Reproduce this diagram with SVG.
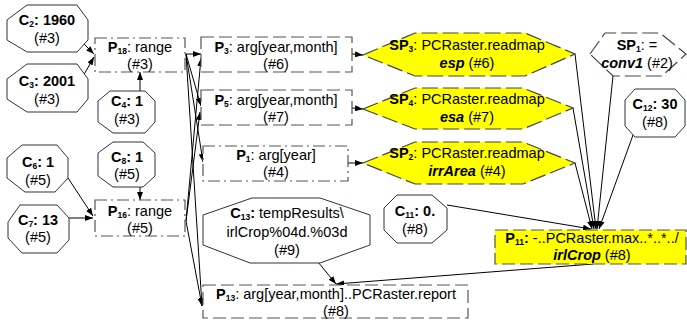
<svg xmlns="http://www.w3.org/2000/svg" width="687" height="327" viewBox="0 0 687 327">
<style>
text{font-family:"Liberation Sans",Arial,sans-serif;font-size:14.5px;text-anchor:middle;fill:#000}
.b{font-weight:bold}
.i{font-style:italic;font-weight:bold}
.s{font-size:8.5px}
.oct{fill:#fff;stroke:#333;stroke-width:1}
.dd{fill:#fff;stroke:#555;stroke-width:1.2;stroke-dasharray:12,4,2,4}
.ld{fill:#fff;stroke:#555;stroke-width:1.2;stroke-dasharray:13,5}
.yb{fill:#ffff00;stroke:#555;stroke-width:1.2;stroke-dasharray:13,5}
.hex{fill:#ffff00;stroke:#444;stroke-width:1.2;stroke-dasharray:16,5}
.hexw{fill:#fff;stroke:#444;stroke-width:1.2;stroke-dasharray:16,5}
.c{fill:none;stroke:#000;stroke-width:1;marker-end:url(#ah)}
</style>
<defs>
<marker id="ah" viewBox="0 0 8 6" refX="8" refY="3" markerWidth="8" markerHeight="6" orient="auto" markerUnits="userSpaceOnUse"><path d="M0,0 L8,3 L0,6 z" fill="#000"/></marker>
</defs>

<g id="connectors">
<line class="c" x1="78" y1="38" x2="94" y2="54"/>
<line class="c" x1="82" y1="78" x2="94" y2="57"/>
<line class="c" x1="140" y1="91" x2="140" y2="72"/>
<line class="c" x1="140" y1="187" x2="140" y2="200"/>
<line class="c" x1="68" y1="178" x2="93" y2="216"/>
<line class="c" x1="69" y1="218" x2="93" y2="218"/>
<line class="c" x1="186" y1="54" x2="201" y2="54"/>
<line class="c" x1="186" y1="54" x2="201" y2="106"/>
<line class="c" x1="186" y1="54" x2="203" y2="162"/>
<line class="c" x1="186" y1="54" x2="202" y2="306"/>
<line class="c" x1="186" y1="221" x2="201" y2="58"/>
<line class="c" x1="186" y1="221" x2="200" y2="112"/>
<line class="c" x1="186" y1="221" x2="202" y2="306"/>
<line class="c" x1="352" y1="54" x2="363" y2="55"/>
<line class="c" x1="352" y1="108" x2="363" y2="109"/>
<line class="c" x1="348" y1="163" x2="363" y2="163"/>
<line class="c" x1="575" y1="54" x2="596" y2="229"/>
<line class="c" x1="573" y1="108" x2="594" y2="229"/>
<line class="c" x1="575" y1="163" x2="592" y2="229"/>
<line class="c" x1="613" y1="76" x2="597" y2="229"/>
<line class="c" x1="633" y1="135" x2="599" y2="229"/>
<line class="c" x1="447" y1="205" x2="591" y2="229"/>
<line class="c" x1="593" y1="264" x2="336" y2="284"/>
<line class="c" x1="318" y1="262" x2="336" y2="284"/>
</g>

<g id="C2"><polygon class="oct" points="27,5 77,5 88,20 88,40 77,52 27,52 7,40 7,20"/>
<text x="47" y="25"><tspan class="b">C</tspan><tspan class="b s" dy="2">2</tspan><tspan class="b" dy="-2">: 1960</tspan></text>
<text x="47" y="43">(#3)</text></g>

<g id="C3"><polygon class="oct" points="27,64 77,64 88,79 88,99 77,112 27,112 7,99 7,79"/>
<text x="47" y="86"><tspan class="b">C</tspan><tspan class="b s" dy="2">3</tspan><tspan class="b" dy="-2">: 2001</tspan></text>
<text x="47" y="104">(#3)</text></g>

<g id="C4"><polygon class="oct" points="110,91 145,91 155,101 155,122 145,133 113,133 98,122 98,101"/>
<text x="127" y="106"><tspan class="b">C</tspan><tspan class="b s" dy="2">4</tspan><tspan class="b" dy="-2">: 1</tspan></text>
<text x="127" y="124">(#3)</text></g>

<g id="C8"><polygon class="oct" points="113,142 143,142 155,153 155,176 143,187 113,187 98,176 98,153"/>
<text x="127" y="162"><tspan class="b">C</tspan><tspan class="b s" dy="2">8</tspan><tspan class="b" dy="-2">: 1</tspan></text>
<text x="127" y="179">(#5)</text></g>

<g id="C6"><polygon class="oct" points="22,145 57,145 68,158 68,178 55,192 25,192 7,178 7,158"/>
<text x="38" y="167"><tspan class="b">C</tspan><tspan class="b s" dy="2">6</tspan><tspan class="b" dy="-2">: 1</tspan></text>
<text x="38" y="185">(#5)</text></g>

<g id="C7"><polygon class="oct" points="20,205 57,205 69,218 69,240 57,253 22,253 8,238 8,222"/>
<text x="38" y="225"><tspan class="b">C</tspan><tspan class="b s" dy="2">7</tspan><tspan class="b" dy="-2">: 13</tspan></text>
<text x="38" y="242">(#5)</text></g>

<g id="C11"><polygon class="oct" points="397,195 432,195 447,208 447,230 432,243 397,243 384,230 384,208"/>
<text x="415" y="216"><tspan class="b">C</tspan><tspan class="b s" dy="2">11</tspan><tspan class="b" dy="-2">: 0.</tspan></text>
<text x="415" y="234">(#8)</text></g>

<g id="C12"><polygon class="oct" points="635,89 675,89 685,100 685,126 675,137 635,137 625,126 625,100"/>
<text x="655" y="109"><tspan class="b">C</tspan><tspan class="b s" dy="2">12</tspan><tspan class="b" dy="-2">: 30</tspan></text>
<text x="655" y="127">(#8)</text></g>

<g id="C13"><polygon class="oct" points="252,198 320,198 370,215 370,245 320,263 250,263 203,245 203,215"/>
<text x="287" y="218"><tspan class="b">C</tspan><tspan class="b s" dy="2">13</tspan><tspan class="b" dy="-2">:</tspan><tspan> tempResults\</tspan></text>
<text x="287" y="237">irlCrop%04d.%03d</text>
<text x="287" y="255">(#9)</text></g>

<g id="P18"><rect class="dd" x="95" y="38" width="90" height="34"/>
<text x="140" y="52"><tspan class="b">P</tspan><tspan class="b s" dy="2">18</tspan><tspan dy="-2">: range</tspan></text>
<text x="140" y="69">(#3)</text></g>

<g id="P16"><rect class="dd" x="95" y="200" width="90" height="36"/>
<text x="140" y="216"><tspan class="b">P</tspan><tspan class="b s" dy="2">16</tspan><tspan dy="-2">: range</tspan></text>
<text x="140" y="233">(#5)</text></g>

<g id="P3"><rect class="ld" x="201" y="37" width="151" height="35"/>
<text x="276" y="52"><tspan class="b">P</tspan><tspan class="b s" dy="2">3</tspan><tspan dy="-2">: arg[year,month]</tspan></text>
<text x="276" y="69">(#6)</text></g>

<g id="P5"><rect class="ld" x="201" y="90" width="151" height="35"/>
<text x="276" y="105"><tspan class="b">P</tspan><tspan class="b s" dy="2">5</tspan><tspan dy="-2">: arg[year,month]</tspan></text>
<text x="276" y="122">(#7)</text></g>

<g id="P1"><rect class="dd" x="203" y="146" width="145" height="35"/>
<text x="276" y="160"><tspan class="b">P</tspan><tspan class="b s" dy="2">1</tspan><tspan dy="-2">: arg[year]</tspan></text>
<text x="276" y="177">(#4)</text></g>

<g id="P13"><rect class="ld" x="203" y="285" width="265" height="33"/>
<text x="336" y="299"><tspan class="b">P</tspan><tspan class="b s" dy="2">13</tspan><tspan dy="-2">: arg[year,month]..PCRaster.report</tspan></text>
<text x="336" y="316">(#8)</text></g>

<g id="P11"><rect class="yb" x="495" y="230" width="191" height="34"/>
<text x="592" y="243"><tspan class="b">P</tspan><tspan class="b s" dy="2">11</tspan><tspan class="b" dy="-2">:</tspan><tspan> -..PCRaster.max..*..*../</tspan></text>
<text x="592" y="260"><tspan class="i">irlCrop</tspan> (#8)</text></g>

<g id="SP3"><polygon class="hex" points="363,55 415,33 525,33 575,54 525,76 415,76"/>
<text x="467" y="50"><tspan class="b">SP</tspan><tspan class="b s" dy="2">3</tspan><tspan dy="-2">: PCRaster.readmap</tspan></text>
<text x="467" y="68"><tspan class="i">esp</tspan> (#6)</text></g>

<g id="SP4"><polygon class="hex" points="363,109 415,88 523,88 573,108 523,129 415,129"/>
<text x="467" y="104"><tspan class="b">SP</tspan><tspan class="b s" dy="2">4</tspan><tspan dy="-2">: PCRaster.readmap</tspan></text>
<text x="467" y="122"><tspan class="i">esa</tspan> (#7)</text></g>

<g id="SP2"><polygon class="hex" points="363,163 415,142 523,142 575,163 523,184 415,184"/>
<text x="467" y="158"><tspan class="b">SP</tspan><tspan class="b s" dy="2">2</tspan><tspan dy="-2">: PCRaster.readmap</tspan></text>
<text x="467" y="176"><tspan class="i">irrArea</tspan> (#4)</text></g>

<g id="SP1"><polygon class="hexw" points="590,54 605,33 660,33 686,54 662,76 613,76"/>
<text x="637" y="50"><tspan class="b">SP</tspan><tspan class="b s" dy="2">1</tspan><tspan dy="-2">: =</tspan></text>
<text x="637" y="68"><tspan class="i">conv1</tspan> (#2)</text></g>
</svg>
